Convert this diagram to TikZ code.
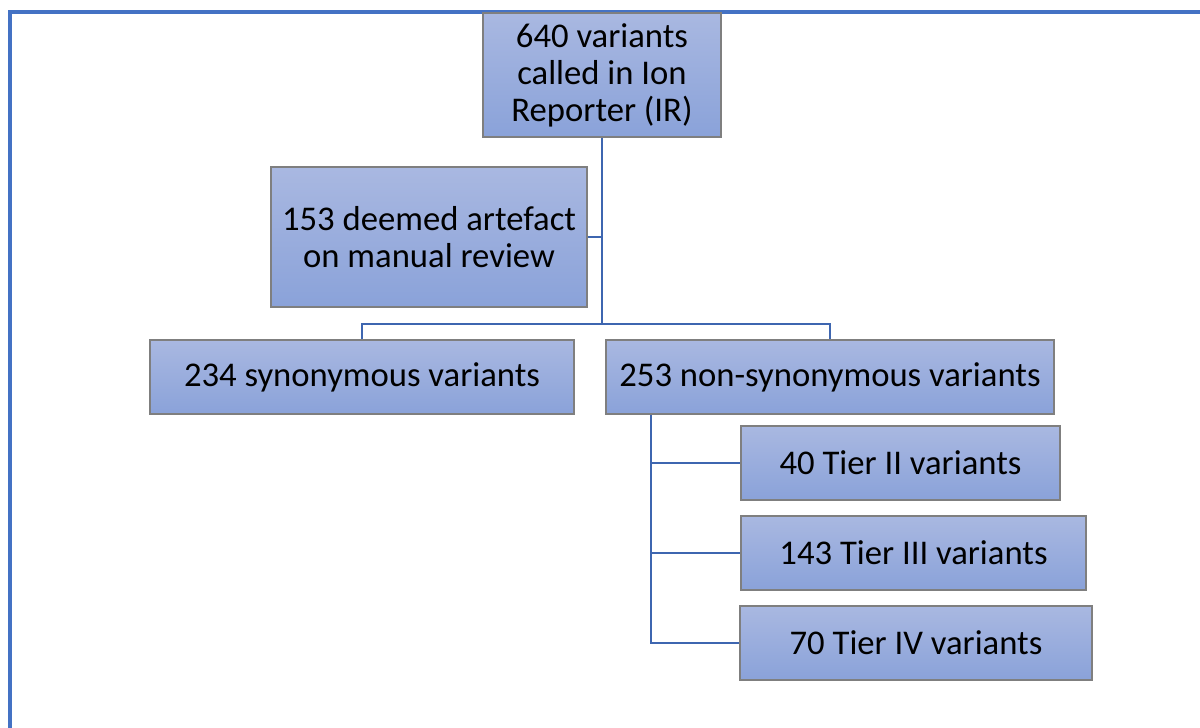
\documentclass[tikz,border=0pt]{standalone}
\usepackage{fontspec}
\setmainfont{Carlito}
\definecolor{frameblue}{HTML}{4472C4}
\definecolor{lineblue}{HTML}{3E66B0}
\definecolor{boxtop}{HTML}{A9B8E1}
\definecolor{boxbot}{HTML}{8AA2D9}
\definecolor{boxedge}{HTML}{7F7F7F}
\begin{document}
\begin{tikzpicture}[x=0.75pt,y=-0.75pt,
  box/.style 2 args={draw=boxedge, line width=0.9pt, top color=boxtop, bottom color=boxbot,
    minimum width=#1*0.75pt, minimum height=#2*0.75pt, inner sep=0pt, align=center,
    font=\fontsize{26pt}{27.75pt}\selectfont},
  conn/.style={draw=lineblue, line width=2.2pt}]
\useasboundingbox (0,0) rectangle (1200,728);
\fill[white] (0,0) rectangle (1200,728);
\draw[frameblue, line width=3.3pt] (10,728) -- (10,12) -- (1200,12);
\node[box={238}{124}] (top) at (602,75) {640 variants\\called in Ion\\Reporter (IR)};
\node[box={316}{140}] (art) at (429,237) {153 deemed artefact\\on manual review};
\node[box={424}{74}] (syn) at (362,377) {234 synonymous variants};
\node[box={448}{74}] (non) at (830,377) {253 non-synonymous variants};
\node[box={319}{74}] (t2) at (900.5,463) {40 Tier II variants};
\node[box={345}{74}] (t3) at (913.5,553) {143 Tier III variants};
\node[box={352}{74}] (t4) at (916,643) {70 Tier IV variants};
\coordinate (split) at (602,324);
\coordinate (tierx) at (651,0);
\draw[conn] (top.south) -- (split);
\draw[conn] (art.east) -- (art.east -| top.south);
\draw[conn] (syn.north) -- (syn.north |- split) -- (non.north |- split) -- (non.north);
\draw[conn] (non.south -| tierx) -- (t4.west -| tierx) -- (t4.west);
\draw[conn] (t2.west -| tierx) -- (t2.west);
\draw[conn] (t3.west -| tierx) -- (t3.west);
\end{tikzpicture}
\end{document}
